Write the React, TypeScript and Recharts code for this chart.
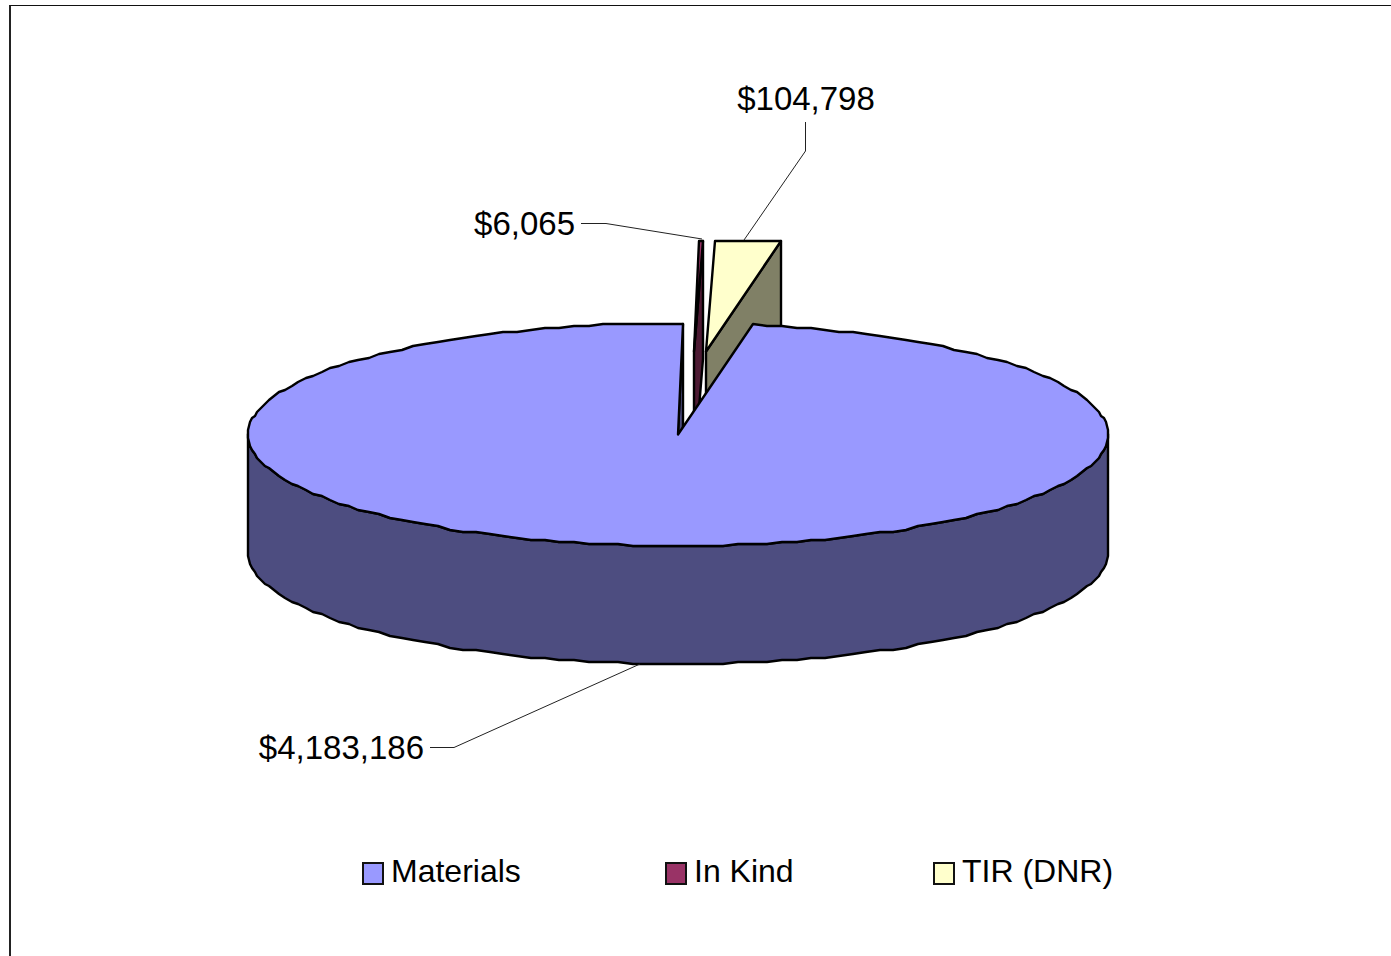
import * as React from "react";
import { Legend, Pie, PieChart } from "recharts";

const CATEGORIES = ["Materials", "In Kind", "TIR (DNR)"];
const AMOUNTS = [4183186, 6065, 104798];
const TOP_COLORS = ["#9999ff", "#993366", "#ffffcc"];
const WALL_COLORS = ["#4d4d80", "#4d1a33", "#808066"];

const WIDTH = 1391;
const HEIGHT = 956;
const CX = 678;
const CY = 434.5;
const RADIUS = 430;
const TILT = 111.5 / 430; // vertical squash of the 3D disc
const DEPTH = 118;
const FIRST_ANGLE = 80; // first slice starts 10deg clockwise from the top

// how far each slice is pulled out of the pie, in screen px
const EXPLODE = [
  { dx: 0, dy: 0 },
  { dx: 16, dy: -83 },
  { dx: 28, dy: -83 },
];

// label anchor and leader line for each slice
const LABELS = [
  { x: 424, y: 759, anchor: "end", line: "M430 747.5H454L640 664" },
  { x: 575, y: 235, anchor: "end", line: "M581 223.5H606L702 239" },
  { x: 806, y: 110, anchor: "middle", line: "M805.5 122V151L744 240" },
];

// space taken by each legend entry so the keys land where they do in the original
const LEGEND_SLOTS = [303, 268, 200];

const tableData = CATEGORIES.map((name, i) => ({
  name,
  value: AMOUNTS[i],
  fill: TOP_COLORS[i],
}));

const OUTLINE = { stroke: "#000", strokeWidth: 2.4, strokeLinejoin: "round" as const };

// the Excel export has a slightly stepped outline, so snap the rim a bit
function rimPoint(angle: number, dx: number, dy: number, drop = 0) {
  const rad = (angle * Math.PI) / 180;
  const x = Math.round(CX + RADIUS * Math.cos(rad));
  const y = Math.round((CY - RADIUS * TILT * Math.sin(rad)) / 2) * 2;
  return `${x + dx} ${y + dy + drop}`;
}

function arcPoints(from: number, to: number, dx: number, dy: number, drop = 0) {
  const step = 2;
  const pts: string[] = [];
  const dir = to > from ? 1 : -1;
  for (let a = from; dir * (a - to) < 0; a += dir * step) {
    pts.push(rimPoint(a, dx, dy, drop));
  }
  pts.push(rimPoint(to, dx, dy, drop));
  return pts;
}

function SliceWalls(props: any) {
  const { startAngle, endAngle, index } = props;
  const { dx, dy } = EXPLODE[index];
  const fill = WALL_COLORS[index];
  const apexX = CX + dx;
  const apexY = CY + dy;
  const hi = Math.min(startAngle, 0);
  const lo = Math.max(endAngle, -180);
  return (
    <g>
      <path
        d={`M${apexX} ${apexY}L${rimPoint(endAngle, dx, dy)}L${rimPoint(endAngle, dx, dy, DEPTH)}L${apexX} ${apexY + DEPTH}Z`}
        fill={fill}
        {...OUTLINE}
      />
      {hi > lo && (
        <path
          d={`M${arcPoints(hi, lo, dx, dy).join("L")}L${arcPoints(lo, hi, dx, dy, DEPTH).join("L")}Z`}
          fill={fill}
          {...OUTLINE}
        />
      )}
    </g>
  );
}

function SliceTop(props: any) {
  const { startAngle, endAngle, index } = props;
  const { dx, dy } = EXPLODE[index];
  return (
    <path
      d={`M${CX + dx} ${CY + dy}L${arcPoints(startAngle, endAngle, dx, dy).join("L")}Z`}
      fill={TOP_COLORS[index]}
      {...OUTLINE}
    />
  );
}

function renderLabel(props: any) {
  const spec = LABELS[props.index];
  return (
    <g key={props.index}>
      <path d={spec.line} fill="none" stroke="#222" strokeWidth={1} />
      <text
        x={spec.x}
        y={spec.y}
        textAnchor={spec.anchor as any}
        fontFamily="'Liberation Sans', Arial, sans-serif"
        fontSize={33}
        fill="#000"
      >
        {`$${Number(props.value).toLocaleString("en-US")}`}
      </text>
    </g>
  );
}

function LegendRow({ payload }: any) {
  // both Pie layers report their entries, keep one of each in table order
  const items = CATEGORIES.map((name) => (payload || []).find((p: any) => p.value === name)).filter(Boolean);
  return (
    <div style={{ display: "flex", alignItems: "center", whiteSpace: "nowrap" }}>
      {items.map((entry: any, i: number) => (
        <span
          key={entry.value}
          style={{ display: "flex", alignItems: "center", gap: 7, width: LEGEND_SLOTS[i], flex: "none" }}
        >
          <span
            style={{
              width: 18,
              height: 19,
              border: "2px solid #111",
              background: entry.color,
              marginTop: 4,
            }}
          />
          {entry.value}
        </span>
      ))}
    </div>
  );
}

export default function App() {
  return (
    <div
      style={{
        position: "absolute",
        left: 0,
        top: 0,
        width: WIDTH,
        height: HEIGHT,
        overflow: "hidden",
        background: "#fff",
      }}
    >
      <div
        style={{
          position: "absolute",
          left: 9,
          top: 5,
          width: WIDTH + 50,
          height: HEIGHT + 50,
          borderTop: "1px solid #111",
          borderLeft: "2px solid #222",
        }}
      />
      <div style={{ position: "absolute", left: 0, top: 0 }}>
        <PieChart width={WIDTH} height={HEIGHT} margin={{ top: 0, right: 0, bottom: 0, left: 0 }}>
          <Pie
            data={tableData}
            dataKey="value"
            nameKey="name"
            cx={CX}
            cy={CY}
            outerRadius={RADIUS}
            startAngle={FIRST_ANGLE}
            endAngle={FIRST_ANGLE - 360}
            shape={SliceWalls}
            legendType="none"
            isAnimationActive={false}
          />
          <Pie
            data={tableData}
            dataKey="value"
            nameKey="name"
            cx={CX}
            cy={CY}
            outerRadius={RADIUS}
            startAngle={FIRST_ANGLE}
            endAngle={FIRST_ANGLE - 360}
            shape={SliceTop}
            label={renderLabel}
            labelLine={false}
            isAnimationActive={false}
          />
          <Legend
            content={LegendRow}
            wrapperStyle={{
              position: "absolute",
              left: 362,
              top: 853,
              width: 800,
              fontFamily: "'Liberation Sans', Arial, sans-serif",
              fontSize: 32,
              color: "#000",
            }}
          />
        </PieChart>
      </div>
    </div>
  );
}
